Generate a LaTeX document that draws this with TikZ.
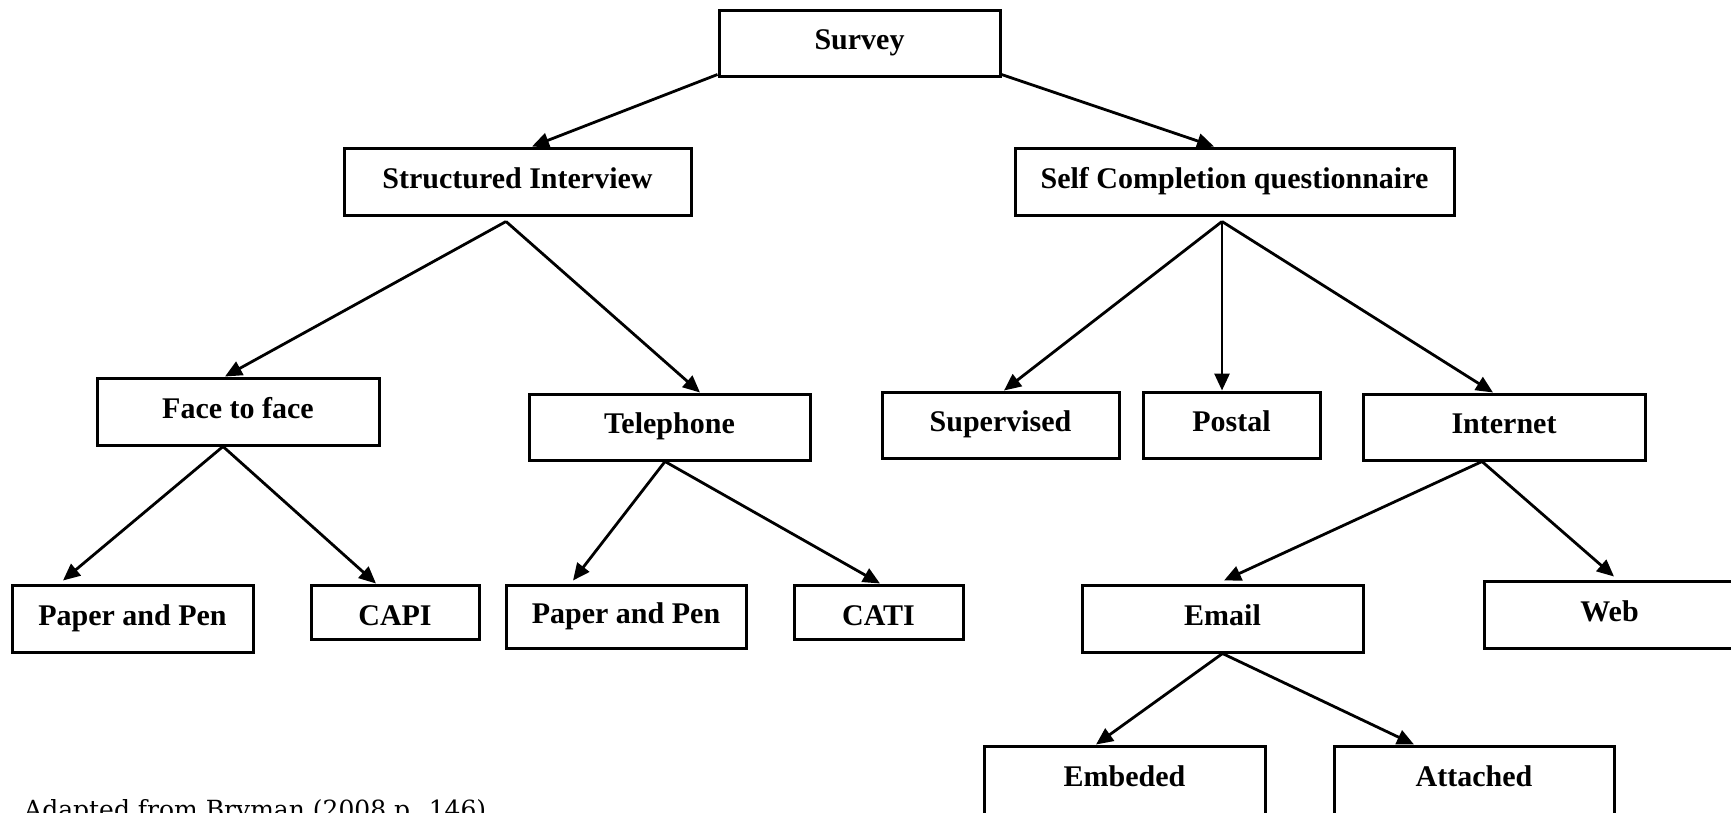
\documentclass[tikz,border=0pt]{standalone}
\usepackage{fontspec}
\setmainfont{Liberation Serif}
\newfontfamily\capfont{DejaVu Serif}
\usetikzlibrary{arrows.meta}
\begin{document}
\begin{tikzpicture}[x=1pt,y=-1pt,
  box/.style={draw, line width=3pt, rectangle, inner sep=0pt,
    font=\fontsize{30}{36}\selectfont\bfseries, text height=21pt, text depth=8pt},
  lowbox/.style={box, text height=34pt},
  link/.style={line width=2.8pt, -{Triangle[length=17pt,width=15pt]}}]
\useasboundingbox (0,0) rectangle (1731,812);
\clip (0,0) rectangle (1731,812);
% level 0
\node[box, minimum width=281pt, minimum height=66pt] (survey) at (859.5,43) {Survey};
% level 1
\node[box, minimum width=347pt, minimum height=67pt] (si) at (517.5,181.5) {Structured Interview};
\node[box, minimum width=439pt, minimum height=67pt] (scq) at (1234.5,181.5) {Self Completion questionnaire};
% level 2
\node[box, minimum width=282pt, minimum height=67pt] (face) at (238,411.5) {Face to face};
\node[box, minimum width=281pt, minimum height=66pt] (tel) at (669.5,427) {Telephone};
\node[box, minimum width=237pt, minimum height=66pt] (sup) at (1000.5,425) {Supervised};
\node[box, minimum width=177pt, minimum height=66pt] (postal) at (1231.5,425) {Postal};
\node[box, minimum width=282pt, minimum height=66pt] (internet) at (1504,427) {Internet};
% level 3
\node[box, minimum width=241pt, minimum height=67pt] (pp1) at (132.5,618.5) {Paper and Pen};
\node[lowbox, minimum width=168pt, minimum height=54pt] (capi) at (395,612) {CAPI};
\node[box, minimum width=240pt, minimum height=63pt] (pp2) at (626,616.5) {Paper and Pen};
\node[lowbox, minimum width=169pt, minimum height=54pt] (cati) at (878.5,612) {CATI};
\node[box, minimum width=281pt, minimum height=67pt] (email) at (1222.5,618.5) {Email};
\node[box, minimum width=251pt, minimum height=67pt] (web) at (1609.5,614.5) {Web};
% level 4
\node[box, minimum width=281pt, minimum height=68pt] (emb) at (1124.5,780) {Embeded};
\node[box, minimum width=280pt, minimum height=68pt] (att) at (1474,780) {Attached};
% caption
\node[anchor=base west, inner sep=0pt, font=\capfont\fontsize{25}{30}\selectfont] (cap) at (24,818) {Adapted from Bryman (2008 p. 146)};
% connectors
\draw[link] ([yshift=3pt]survey.south west) -- ([xshift=14.5pt]si.north);
\draw[link] ([yshift=3pt]survey.south east) -- ([xshift=-20.5pt]scq.north);
\draw[link] ([xshift=-11.5pt,yshift=-5pt]si.south) -- ([xshift=-13pt]face.north);
\draw[link] ([xshift=-11.5pt,yshift=-5pt]si.south) -- ([xshift=30.5pt]tel.north);
\draw[link] ([xshift=-12.5pt,yshift=-5pt]scq.south) -- ([xshift=3.5pt]sup.north);
\draw[link] ([xshift=-12.5pt,yshift=-5pt]scq.south) -- ([xshift=-9.5pt]postal.north);
\draw[link] ([xshift=-12.5pt,yshift=-5pt]scq.south) -- ([xshift=-11pt]internet.north);
\draw[link] ([xshift=-15pt]face.south) -- ([xshift=-69.5pt,yshift=3pt]pp1.north);
\draw[link] ([xshift=-15pt]face.south) -- ([xshift=-19pt]capi.north);
\draw[link] ([xshift=-4.5pt]tel.south) -- ([xshift=-53pt,yshift=3pt]pp2.north);
\draw[link] ([xshift=-4.5pt]tel.south) -- ([xshift=1.5pt]cati.north);
\draw[link] ([xshift=-22pt]internet.south) -- ([xshift=1.5pt,yshift=3pt]email.north);
\draw[link] ([xshift=-22pt]internet.south) -- ([xshift=4.5pt,yshift=3pt]web.north);
\draw[link] (email.south) -- ([xshift=-28.5pt]emb.north);
\draw[link] (email.south) -- ([xshift=-60pt]att.north);
\end{tikzpicture}
\end{document}
